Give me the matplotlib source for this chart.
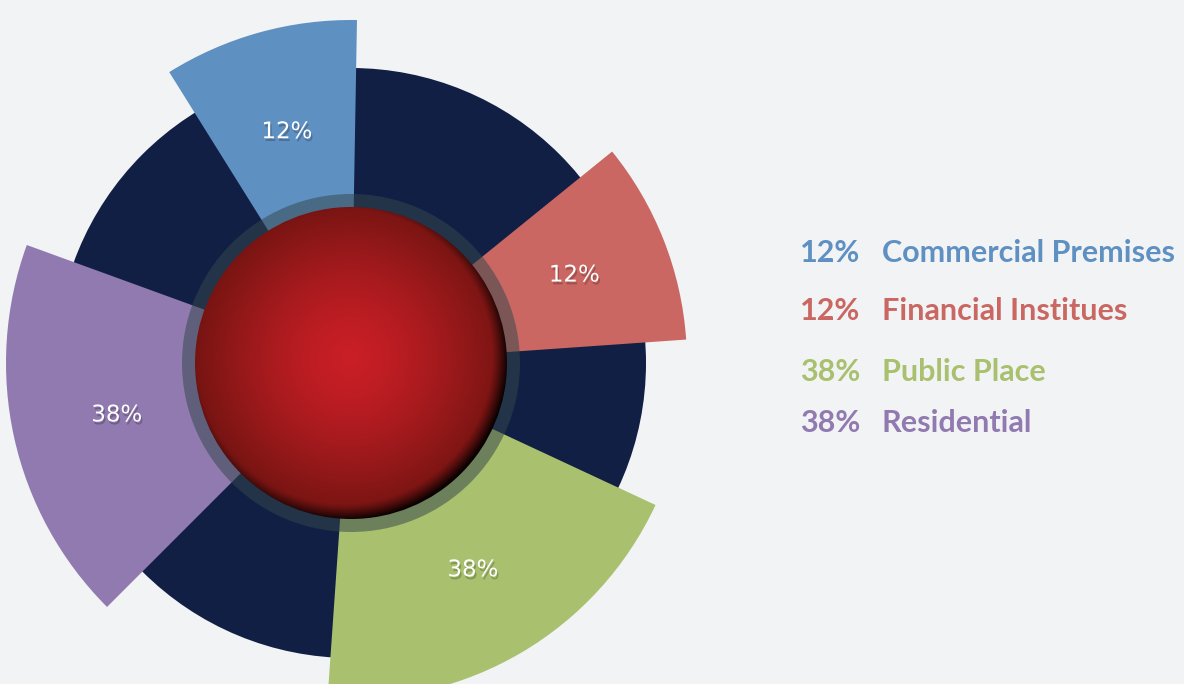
import numpy as np
import matplotlib
matplotlib.use("Agg")
import matplotlib.pyplot as plt
from matplotlib.patches import Wedge, Circle
import matplotlib.patheffects as pe

# ---------- data ----------
categories = ["Commercial Premises", "Financial Institues", "Public Place", "Residential"]
shares = [12, 12, 38, 38]
colors = ["#5F90C2", "#CA6762", "#A9C16E", "#917AB0"]
# angular extent of each slice (deg, counter-clockwise from 3 o'clock)
theta_start = [89, 4, -94, 160]
theta_end = [122, 39, -25, 225]

# ---------- layout ----------
BG = "#F1F3F5"
NAVY = "#111F45"
slice_r = [343, 336, 336, 345]
R_DISK = 295
R_RING = 169
R_BALL = 156
LABEL_R = 240
legend_y = [110, 52, -9, -60]
legend_pct_x = 449
legend_name_x = 531

fig = plt.figure(figsize=(11.84, 6.84), dpi=100, facecolor=BG)
ax = fig.add_axes([0, 0, 1, 1])
ax.set_facecolor(BG)
ax.set_xlim(-351, 833)
ax.set_ylim(-321, 363)
ax.set_aspect("equal")
ax.axis("off")

# navy background disk
ax.add_patch(Circle((0, 0), R_DISK, facecolor=NAVY, edgecolor="none", zorder=1))

# slices
for t1, t2, rr, c in zip(theta_start, theta_end, slice_r, colors):
    ax.add_patch(Wedge((0, 0), rr, t1, t2, facecolor=c, edgecolor="none", zorder=2))

# translucent ring around the ball
ax.add_patch(Wedge((0, 0), R_RING, 0, 360, width=R_RING - R_BALL + 6,
                   facecolor="#34474B", edgecolor="none", alpha=0.52, zorder=3))

# red ball with radial gradient and lower-right shadow
n = 600
xs = np.linspace(-R_BALL, R_BALL, n)
X, Y = np.meshgrid(xs, xs[::-1])
r = np.hypot(X + 1, Y - 5) / R_BALL
inner = np.array([0.79, 0.12, 0.15])
outer = np.array([0.46, 0.08, 0.07])
t = np.clip(r, 0, 1) ** 1.4
img = inner[None, None, :] * (1 - t[..., None]) + outer[None, None, :] * t[..., None]
d = np.hypot(X + 7, Y - 7)
shadow = np.clip((d - (R_BALL - 8)) / 16, 0, 1) ** 1.3
img = img * (1 - 0.9 * shadow[..., None])
im = ax.imshow(img, extent=[-R_BALL, R_BALL, -R_BALL, R_BALL], zorder=4,
               interpolation="bilinear")
clip = Circle((0, 0), R_BALL, transform=ax.transData)
im.set_clip_path(clip)

# slice labels
shadow_fx = [pe.SimplePatchShadow(offset=(1, -2), shadow_rgbFace="black", alpha=0.22),
             pe.Normal()]
for t1, t2, s in zip(theta_start, theta_end, shares):
    mid = np.deg2rad((t1 + t2) / 2)
    ax.text(LABEL_R * np.cos(mid), LABEL_R * np.sin(mid), f"{s}%",
            ha="center", va="center", color="white", fontsize=16.5,
            family="DejaVu Sans", zorder=5, path_effects=shadow_fx)

# legend
for y, s, name, c in zip(legend_y, shares, categories, colors):
    ax.text(legend_pct_x, y, f"{s}%", ha="left", va="center", color=c,
            fontsize=22, fontweight="bold", family="Lato")
    ax.text(legend_name_x, y, name, ha="left", va="center", color=c,
            fontsize=22, fontweight="bold", family="Lato")

fig.savefig("out.png", dpi=100, facecolor=BG)
